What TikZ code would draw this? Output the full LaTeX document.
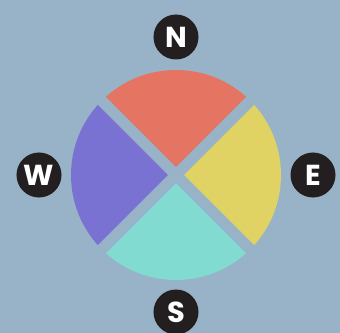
\documentclass[tikz,border=0pt]{standalone}
\usepackage{fontspec}
\newfontfamily\pop{Poppins}
\definecolor{bg}{HTML}{98B2C7}
\definecolor{cred}{HTML}{E57462}
\definecolor{cyel}{HTML}{E0D363}
\definecolor{caqua}{HTML}{81DBD1}
\definecolor{cpurp}{HTML}{7A72D2}
\definecolor{cblk}{HTML}{231F20}
\begin{document}
\begin{tikzpicture}[x=1bp,y=1bp,
  dirbadge/.style={circle,fill=cblk,minimum size=45bp,inner sep=0pt,text=white,font=\pop\bfseries\fontsize{29}{29}\selectfont}]
\useasboundingbox (0,0) rectangle (340,333);
\fill[bg] (0,0) rectangle (340,333);
\coordinate (c) at (176,158);
\fill[cred] (c) -- ++(45:105) arc (45:135:105) -- cycle;
\fill[cpurp] (c) -- ++(135:105) arc (135:225:105) -- cycle;
\fill[caqua] (c) -- ++(225:105) arc (225:315:105) -- cycle;
\fill[cyel] (c) -- ++(315:105) arc (315:405:105) -- cycle;
\draw[bg,line width=11bp] (c) ++(45:125) coordinate (g1) -- (c) -- ++(225:125) coordinate (g2);
\draw[bg,line width=11bp] (c) ++(135:125) coordinate (g3) -- (c) -- ++(315:125) coordinate (g4);
\node[dirbadge] (N) at (176,296) {N};
\node[dirbadge] (S) at (176,21) {S};
\node[dirbadge] (W) at (39,158) {W};
\node[dirbadge] (E) at (313,158) {E};
\end{tikzpicture}
\end{document}
